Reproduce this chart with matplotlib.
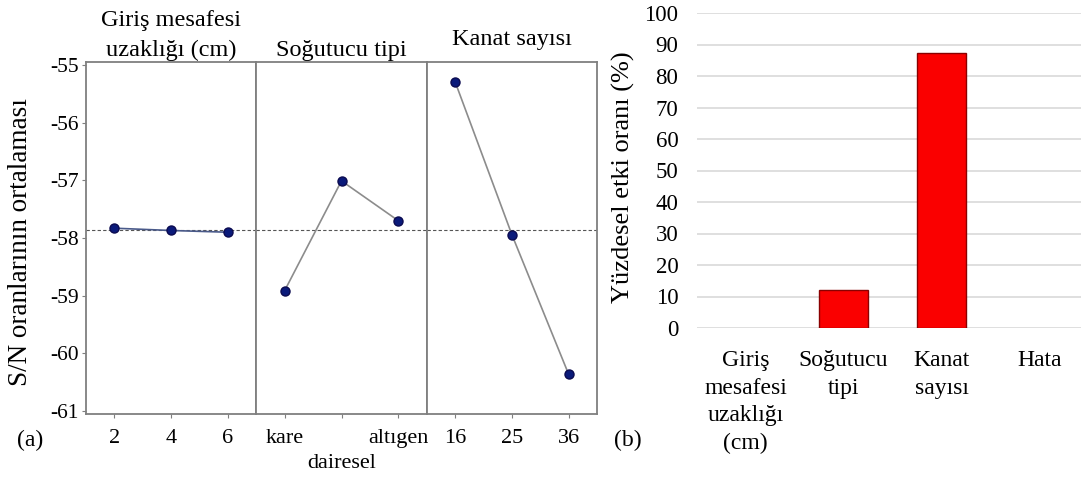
import matplotlib.pyplot as plt
import numpy as np

plt.rcParams['font.family'] = ['Liberation Serif', 'DejaVu Serif']
plt.rcParams['axes.unicode_minus'] = False

# (a) main effects for S/N ratios
mesafe_levels = [2, 4, 6]
mesafe_sn = [-57.83, -57.87, -57.90]
sogutucu_levels = ['kare', 'dairesel', 'altıgen']
sogutucu_sn = [-58.91, -57.01, -57.70]
kanat_levels = ['16', '25', '36']
kanat_sn = [-55.29, -57.94, -60.36]
sn_mean = -57.87
panel_titles = ['Giriş mesafesi\nuzaklığı (cm)', 'Soğutucu tipi', 'Kanat sayısı']

# (b) percent contribution
factors = ['Giriş\nmesafesi\nuzaklığı\n(cm)', 'Soğutucu\ntipi', 'Kanat\nsayısı', 'Hata']
contrib = [0, 12.0, 87.2, 0]

fig = plt.figure(figsize=(10.81, 4.79), dpi=100)

spine_col = '#7f7f7f'
left, right = 86 / 1081, 597 / 1081
bottom, top = 1 - 414 / 479, 1 - 62 / 479
w = (right - left) / 3
axs = [fig.add_axes([left + i * w, bottom, w, top - bottom]) for i in range(3)]

for i, ax in enumerate(axs):
    ax.set_ylim(-61.05, -54.95)
    for s in ax.spines.values():
        s.set_color(spine_col)
        s.set_linewidth(1.3)
    ax.axhline(sn_mean, color='#555555', ls=(0, (3, 2)), lw=0.8, zorder=1)
    ax.tick_params(axis='x', length=3, color=spine_col, labelsize=16, pad=8)
    if i == 0:
        ax.set_yticks(range(-61, -54))
        ax.tick_params(axis='y', length=3, color=spine_col, labelsize=15.5, pad=2)
        ax.set_ylabel('S/N oranlarının ortalaması', fontsize=19.5)
        ax.yaxis.set_label_coords(-0.31, 0.489)
    else:
        ax.tick_params(axis='y', left=False, labelleft=False)

# panel 1
axs[0].plot(mesafe_levels, mesafe_sn, color='#4a5a8a', lw=1.2, marker='o', ms=6.5,
            mfc='#0a1a7a', mec='#0a0a50', zorder=3)
axs[0].set_xlim(1, 7)
axs[0].set_xticks(mesafe_levels)

# panel 2
x2 = np.arange(1, 4)
axs[1].plot(x2, sogutucu_sn, color='#8c8c8c', lw=1.2, marker='o', ms=6.5,
            mfc='#0a1a7a', mec='#0a0a50', zorder=3)
axs[1].set_xlim(0.5, 3.5)
axs[1].set_xticks(x2)
axs[1].set_xticklabels(sogutucu_levels)
axs[1].xaxis.get_major_ticks()[1].set_pad(26)  # staggered middle label

# panel 3
x3 = np.arange(1, 4)
axs[2].plot(x3, kanat_sn, color='#8c8c8c', lw=1.2, marker='o', ms=6.5,
            mfc='#0a1a7a', mec='#0a0a50', zorder=3)
axs[2].set_xlim(0.5, 3.5)
axs[2].set_xticks(x3)
axs[2].set_xticklabels(kanat_levels)

axs[0].set_title(panel_titles[0], fontsize=17.5, pad=4, linespacing=1.6)
axs[1].set_title(panel_titles[1], fontsize=17.5, pad=4)
axs[2].set_title(panel_titles[2], fontsize=17.5, pad=12)

fig.text(30 / 1081, 1 - 440 / 479, '(a)', fontsize=17, ha='center', va='center')
fig.text(628 / 1081, 1 - 440 / 479, '(b)', fontsize=17, ha='center', va='center')

# bar chart
bl, br = 696.5 / 1081, 1088.5 / 1081
bb, bt = 1 - 328 / 479, 1 - 13 / 479
bx = fig.add_axes([bl, bb, br - bl, bt - bb])
xb = np.arange(len(factors))
edge_w = [1.0 if v > 0 else 0 for v in contrib]
bx.bar(xb, contrib, width=0.5, color='#fa0000', edgecolor='#8a0000', lw=edge_w, zorder=3)
bx.set_xlim(-0.5, len(factors) - 0.5)
bx.set_ylim(0, 100)
bx.set_yticks(range(0, 101, 10))
bx.grid(axis='y', color='#d9d9d9', lw=1.2, zorder=0)
for s in bx.spines.values():
    s.set_visible(False)
bx.tick_params(axis='both', length=0)
bx.tick_params(axis='y', pad=13, labelsize=16.5)
bx.tick_params(axis='x', pad=16, labelsize=17)
bx.set_xticks(xb)
bx.set_xticklabels(factors, linespacing=1.4, va='top')
bx.set_ylabel('Yüzdesel etki oranı (%)', fontsize=19)
bx.yaxis.set_label_coords(-0.157, 0.479)

fig.savefig('out.png', dpi=100)
